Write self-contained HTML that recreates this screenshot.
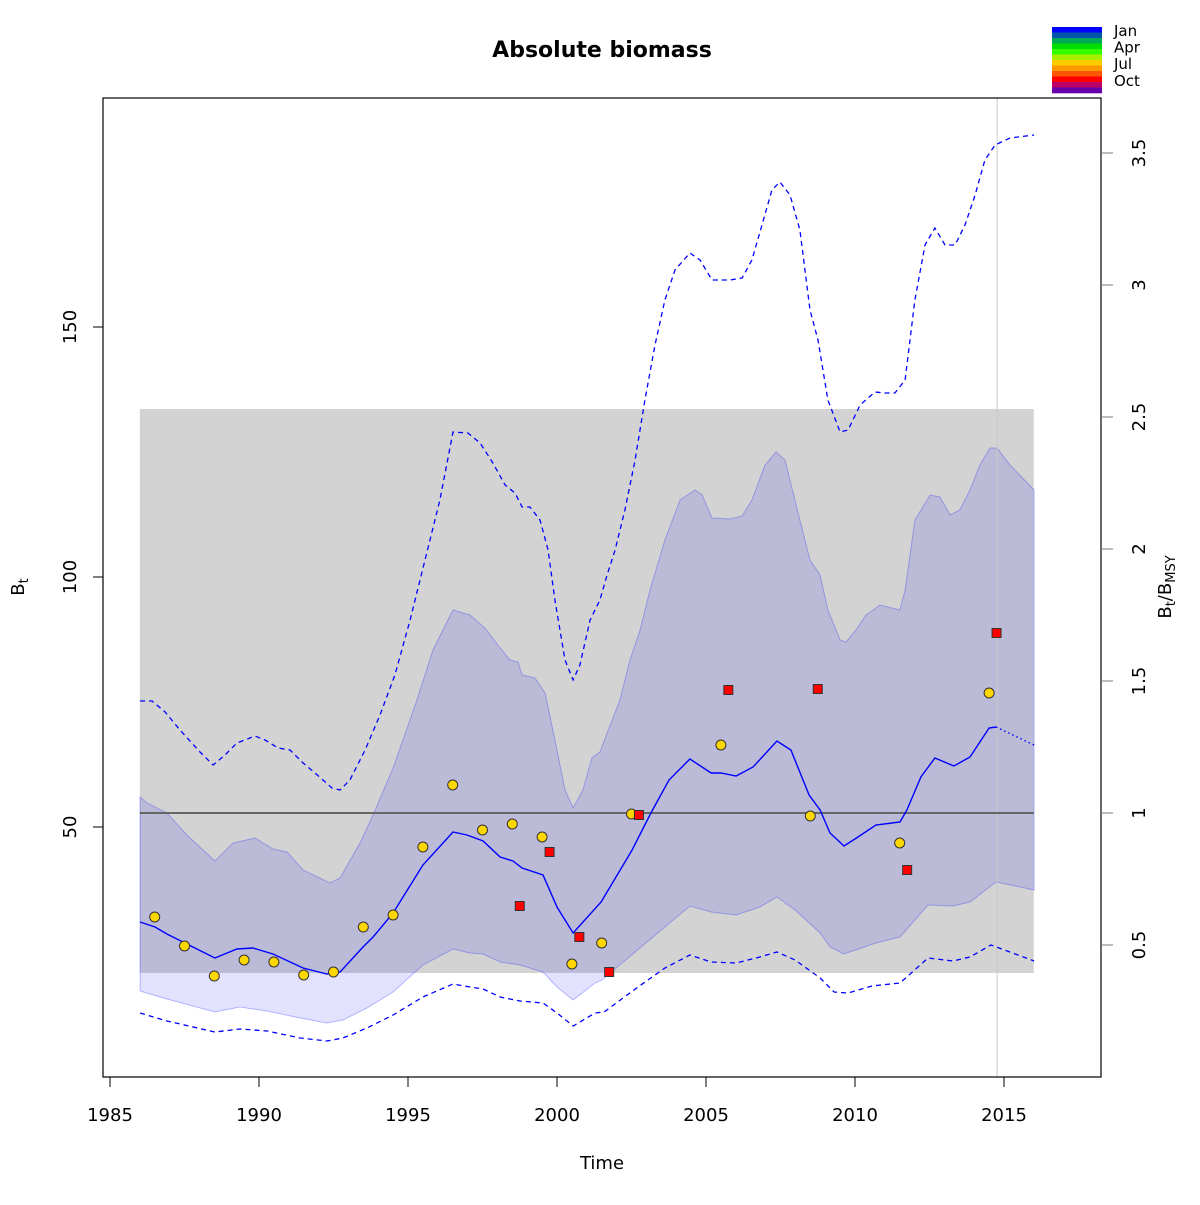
<!DOCTYPE html>
<html><head><meta charset="utf-8"><style>
body{margin:0;background:#fff;}
svg text{font-family:"DejaVu Sans","Liberation Sans",sans-serif;}
</style></head><body>
<svg id="chart" width="1200" height="1200" xmlns="http://www.w3.org/2000/svg">
<rect width="1200" height="1200" fill="#fff"/>
<g id="plot"></g>
<g id="fg"></g>
</svg>
<script>
const BMSY = 52.8;
const xTicks = [1985,1990,1995,2000,2005,2010,2015];
const yTicks = [50,100,150];
const rTicks = [0.5,1,1.5,2,2.5,3,3.5];
const rTickLabels = ["0.5","1","1.5","2","2.5","3","3.5"];
const refBox = [1986.0, 2016.0, 20.8, 133.6];
const lastObsTime = 2014.77;
const medT = [1986.01,1986.51,1986.91,1988.52,1989.26,1989.80,1990.47,1991.48,1992.28,1992.72,1993.49,1993.83,1994.50,1995.50,1996.51,1996.98,1997.52,1998.09,1998.52,1998.83,1999.53,2000.00,2000.54,2001.48,2002.52,2003.15,2003.76,2004.46,2005.17,2005.50,2006.01,2006.58,2007.38,2007.85,2008.46,2008.83,2009.16,2009.63,2010.10,2010.70,2011.51,2011.74,2012.21,2012.68,2013.32,2013.86,2014.50,2014.73,2016.01];
const medB = [31.0,30.0,28.6,23.8,25.6,25.8,24.6,21.8,20.6,21.0,26.0,28.0,32.8,42.4,49.0,48.4,47.2,44.0,43.2,41.8,40.4,34.0,28.8,35.0,45.4,52.8,59.4,63.6,60.8,60.8,60.2,62.0,67.2,65.4,56.4,53.4,48.8,46.2,48.0,50.4,51.0,53.4,60.0,63.8,62.2,64.0,69.8,70.0,66.4];
const upT = [1986.01,1986.24,1986.91,1987.58,1988.52,1989.13,1989.87,1990.47,1990.94,1991.48,1992.38,1992.72,1993.39,1993.83,1994.50,1995.30,1995.84,1996.51,1997.08,1997.58,1998.09,1998.42,1998.69,1998.83,1999.26,1999.60,1999.93,2000.27,2000.54,2000.87,2001.17,2001.44,2001.68,2002.11,2002.45,2002.79,2003.12,2003.62,2004.13,2004.63,2004.87,2005.20,2005.81,2006.21,2006.54,2006.98,2007.35,2007.65,2008.15,2008.49,2008.83,2009.09,2009.50,2009.70,2010.03,2010.37,2010.84,2011.51,2011.68,2012.01,2012.52,2012.85,2013.19,2013.52,2013.86,2014.19,2014.53,2014.77,2015.20,2016.01];
const upB = [56.0,54.8,52.8,48.4,43.2,46.8,47.8,45.6,45.0,41.4,38.8,39.8,46.8,52.4,61.8,75.4,85.4,93.4,92.4,89.8,85.8,83.4,83.0,80.4,79.8,76.8,67.4,57.4,53.8,57.4,63.8,65.0,68.8,75.4,83.4,89.4,97.4,107.4,115.4,117.4,116.4,111.8,111.6,112.2,115.4,122.4,125.0,123.4,111.4,103.4,100.4,93.4,87.4,87.0,89.4,92.4,94.4,93.4,97.4,111.4,116.4,116.0,112.4,113.4,117.4,122.4,125.8,125.8,122.4,117.4];
const loT = [1986.01,1986.91,1988.52,1989.36,1990.27,1991.38,1992.28,1992.82,1993.62,1994.50,1995.50,1996.51,1997.08,1997.52,1998.09,1998.76,1999.53,2000.00,2000.54,2001.28,2001.51,2002.58,2003.62,2004.46,2005.17,2006.01,2006.81,2007.38,2007.99,2008.83,2009.16,2009.63,2010.70,2011.51,2012.45,2013.29,2013.86,2014.73,2016.01];
const loB = [17.2,15.6,13.0,14.0,13.2,11.8,10.8,11.4,13.8,17.0,22.4,25.6,24.8,24.6,23.0,22.4,21.0,18.0,15.4,18.8,19.4,24.8,30.0,34.2,33.0,32.4,34.0,36.0,33.4,28.8,26.0,24.6,26.8,28.0,34.4,34.2,35.0,39.0,37.4];
const ciUpT = [1986.01,1986.41,1986.85,1987.35,1988.02,1988.46,1988.86,1989.26,1989.87,1990.20,1990.64,1991.04,1991.48,1991.88,1992.45,1992.72,1993.05,1993.56,1994.06,1994.56,1995.07,1995.57,1996.07,1996.51,1997.01,1997.42,1997.85,1998.26,1998.59,1998.83,1999.09,1999.43,1999.70,1999.93,2000.27,2000.54,2000.77,2001.11,2001.44,2001.68,2001.95,2002.28,2002.62,2002.95,2003.29,2003.62,2003.96,2004.46,2004.80,2005.20,2005.81,2006.21,2006.54,2006.88,2007.21,2007.48,2007.82,2008.15,2008.49,2008.76,2009.09,2009.50,2009.77,2010.17,2010.67,2011.01,2011.34,2011.68,2012.01,2012.35,2012.68,2013.02,2013.36,2013.69,2014.03,2014.36,2014.70,2015.20,2016.01];
const ciUpB = [75.2,75.2,73.0,69.4,65.0,62.4,64.4,66.8,68.2,67.4,65.8,65.4,62.8,60.8,57.8,57.4,59.4,65.4,72.4,80.4,91.4,103.4,115.4,129.0,128.8,126.8,122.8,118.4,116.8,114.0,114.0,111.4,105.4,95.4,83.4,79.4,82.4,91.4,95.4,100.4,105.4,113.4,123.4,135.4,146.4,155.4,161.4,164.8,163.4,159.4,159.4,159.8,163.4,170.4,177.4,179.0,176.4,169.4,153.4,147.4,135.4,129.0,129.4,134.4,137.0,136.8,136.8,139.4,155.4,166.4,169.8,166.4,166.4,170.4,176.4,183.4,186.4,187.8,188.4];
const ciLoT = [1986.01,1986.91,1988.52,1989.36,1990.27,1991.38,1992.28,1992.82,1993.62,1994.50,1995.50,1996.51,1997.08,1997.52,1998.09,1998.76,1999.53,2000.00,2000.54,2001.28,2001.58,2002.58,2003.62,2004.46,2005.17,2006.01,2006.81,2007.38,2007.99,2008.83,2009.30,2009.77,2010.57,2011.51,2012.45,2013.29,2013.86,2014.56,2016.01];
const ciLoB = [12.8,11.2,9.0,9.6,9.2,7.8,7.2,7.8,9.8,12.4,16.0,18.6,18.0,17.6,16.0,15.2,14.8,12.8,10.2,12.8,13.0,17.4,21.8,24.4,23.0,22.8,24.0,25.0,23.4,19.8,17.0,16.8,18.2,18.8,23.8,23.2,24.0,26.4,23.2];
const idx1T = [1986.5,1987.5,1988.5,1989.5,1990.5,1991.5,1992.5,1993.5,1994.5,1995.5,1996.5,1997.5,1998.5,1999.5,2000.5,2001.5,2002.5,2005.5,2008.5,2011.5,2014.5];
const idx1B = [32,26.2,20.2,23.4,23,20.4,21,30,32.4,46,58.4,49.4,50.6,48,22.6,26.8,52.6,66.4,52.2,46.8,76.8];
const idx2T = [1998.75,1999.75,2000.75,2001.75,2002.75,2005.75,2008.75,2011.75,2014.75];
const idx2B = [34.2,45,28,21,52.4,77.4,77.6,41.4,88.8];
const legendColors = ["#0000ff","#0055aa","#00aa55","#00dd00","#33ff00","#aaee00","#ffcc00","#ff9900","#ff5500","#ff0000","#bb0066","#6600aa"];
const legendLabels = ["Jan","Apr","Jul","Oct"];

const NS="http://www.w3.org/2000/svg";
const X0=103,X1=1101,Y0=98,Y1=1077;
const sx = t => 110 + (t-1985)*29.8;
const sy = b => 1077 - b*5;
const sr = r => sy(r*BMSY);
const plot=document.getElementById('plot');
function mk(tag,attrs,parent,text){const e=document.createElementNS(NS,tag);for(const k in attrs)e.setAttribute(k,attrs[k]);if(text!==undefined)e.textContent=text;(parent||plot).appendChild(e);return e;}
function pts(T,B,f){return T.map((t,i)=>sx(t).toFixed(1)+','+sy(B[i]).toFixed(1)).filter((_,i)=>!f||f(T[i]));}

// gray reference box
let e=mk('rect',{x:sx(refBox[0]),y:sy(refBox[3]),width:sx(refBox[1])-sx(refBox[0]),height:sy(refBox[2])-sy(refBox[3]),fill:'#d3d3d3'});


// band
const bandPts=pts(upT,upB).concat(pts(loT,loB).reverse());
e=mk('polygon',{points:bandPts.join(' '),fill:'rgba(0,0,255,0.114)',stroke:'rgba(0,0,255,0.25)','stroke-width':1});


// vertical line
e=mk('line',{x1:sx(lastObsTime),x2:sx(lastObsTime),y1:Y0,y2:Y1,stroke:'#c8c8c8','stroke-width':1});


// BMSY line
e=mk('line',{x1:sx(refBox[0]),x2:sx(refBox[1]),y1:sr(1),y2:sr(1),stroke:'#666','stroke-width':2});


// CI lines
e=mk('polyline',{points:pts(ciUpT,ciUpB).join(' '),fill:'none',stroke:'#0000ff','stroke-width':1.3,'stroke-dasharray':'5,4'});


e=mk('polyline',{points:pts(ciLoT,ciLoB).join(' '),fill:'none',stroke:'#0000ff','stroke-width':1.3,'stroke-dasharray':'5,4'});


// median
e=mk('polyline',{points:pts(medT,medB,t=>t<=lastObsTime).join(' '),fill:'none',stroke:'#0000ff','stroke-width':1.4});


const fi=medT.findIndex(t=>t>lastObsTime);
e=mk('polyline',{points:pts(medT.slice(fi-1),medB.slice(fi-1)).join(' '),fill:'none',stroke:'#0000ff','stroke-width':1.4,'stroke-dasharray':'1.5,3'});


// points
idx1T.forEach((t,i)=>{const c=mk('circle',{cx:sx(t),cy:sy(idx1B[i]),r:5,fill:'#ffd700',stroke:'#333','stroke-width':1});

});
idx2T.forEach((t,i)=>{const c=mk('rect',{x:sx(t)-4.5,y:sy(idx2B[i])-4.5,width:9,height:9,fill:'#ff0000',stroke:'#333','stroke-width':1});

});

// axes
const fg=document.getElementById('fg');
e=mk('rect',{x:X0,y:Y0,width:X1-X0,height:Y1-Y0,fill:'none',stroke:'#000','stroke-width':1.2},fg);


xTicks.forEach(v=>{mk('line',{x1:sx(v),x2:sx(v),y1:Y1,y2:Y1+10,stroke:'#000'},fg);
const t=mk('text',{x:sx(v),y:1121,'text-anchor':'middle','font-size':18},fg,String(v));

});
yTicks.forEach(v=>{mk('line',{x1:X0-10,x2:X0,y1:sy(v),y2:sy(v),stroke:'#000'},fg);
const t=mk('text',{x:0,y:0,'text-anchor':'middle','font-size':18,transform:`translate(76,${sy(v)}) rotate(-90)`},fg,String(v));

});
rTicks.forEach((v,i)=>{mk('line',{x1:X1,x2:X1+12,y1:sr(v),y2:sr(v),stroke:'#777'},fg);
const t=mk('text',{x:0,y:0,'text-anchor':'middle','font-size':18,transform:`translate(1145,${sr(v)}) rotate(-90)`},fg,rTickLabels[i]);

});
e=mk('text',{x:602,y:57,'text-anchor':'middle','font-size':22,'font-weight':'bold'},fg,'Absolute biomass');


e=mk('text',{x:602,y:1169,'text-anchor':'middle','font-size':18},fg,'Time');


e=mk('text',{x:0,y:0,'text-anchor':'middle','font-size':18,transform:'translate(24,587) rotate(-90)'},fg);


e.innerHTML='B<tspan font-size="13" dy="4">t</tspan>';
e=mk('text',{x:0,y:0,'text-anchor':'middle','font-size':18,transform:'translate(1171,587) rotate(-90)'},fg);


e.innerHTML='B<tspan font-size="13" dy="4">t</tspan><tspan dy="-4">/B</tspan><tspan font-size="13" dy="4">MSY</tspan>';
// legend
const lg=mk('g',{},fg);


const lh=66/legendColors.length;
legendColors.forEach((c,i)=>{mk('rect',{x:1052,y:27+i*lh,width:50,height:lh+0.3,fill:c},lg);});
legendLabels.forEach((l,i)=>{const t=mk('text',{x:1114,y:36+i*16.6,'font-size':15},lg,l);

});
</script>
</body></html>
